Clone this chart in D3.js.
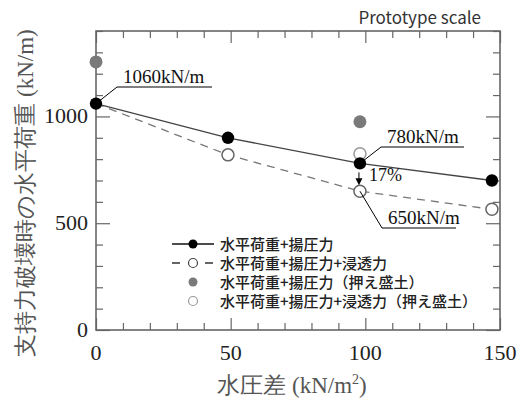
<!DOCTYPE html>
<html>
<head>
<meta charset="utf-8">
<script src="https://cdn.jsdelivr.net/npm/d3@7"></script>
<style>
  body { margin: 0; background: #fff; }
  svg { display: block; }
</style>
</head>
<body>
<svg id="chart" width="528" height="405"></svg>
<script>
// water pressure difference (kN/m2) and bearing capacity (kN/m)
var pressure = [0, 49, 98, 147];
var loadUplift = [1060, 900, 780, 700];
var loadUpliftSeepage = [1060, 820, 650, 565];
var bermPressure = [0, 98];
var bermUplift = [1255, 975];
var bermSeepPressure = [98];
var bermSeepage = [825];

var xTicks = [0, 50, 100, 150];
var yTicks = [0, 500, 1000];
var legendLabels = ["水平荷重+揚圧力", "水平荷重+揚圧力+浸透力", "水平荷重+揚圧力（押え盛土）", "水平荷重+揚圧力+浸透力（押え盛土）"];

var svg = d3.select("#chart"),
    margin = { top: 31, right: 28, bottom: 75, left: 96 },
    width = +svg.attr("width") - margin.left - margin.right,
    height = +svg.attr("height") - margin.top - margin.bottom,
    g = svg.append("g").attr("transform", "translate(" + margin.left + "," + margin.top + ")");

var x = d3.scaleLinear().domain([0, 150]).range([0, width]);
var y = d3.scaleLinear().domain([0, 1400]).range([height, 0]);

var serif = "'Liberation Serif', 'Times New Roman', serif";
var sans = "'Noto Sans CJK JP', 'Noto Sans', sans-serif";
var axisCol = "#666";

// inward ticks, all four sides
function ticks(axis, vals, len, tx) {
  g.append("g").attr("transform", tx)
    .call(axis.tickValues(vals).tickSize(len).tickFormat(""))
    .call(function (a) {
      a.select(".domain").remove();
      a.selectAll("line").attr("stroke", axisCol).attr("stroke-width", 1.2);
    });
}
var xMinor = d3.range(0, 151, 10).filter(function (d) { return d % 50; });
var yMinor = d3.range(0, 1401, 100).filter(function (d) { return d % 500; });
ticks(d3.axisTop(x), xMinor, 7, "translate(0," + height + ")");
ticks(d3.axisTop(x), xTicks, 12, "translate(0," + height + ")");
ticks(d3.axisBottom(x), xMinor, 7, "translate(0,0)");
ticks(d3.axisBottom(x), xTicks, 12, "translate(0,0)");
ticks(d3.axisRight(y), yMinor, 7, "translate(0,0)");
ticks(d3.axisRight(y), yTicks, 14, "translate(0,0)");
ticks(d3.axisLeft(y), yMinor, 7, "translate(" + width + ",0)");
ticks(d3.axisLeft(y), yTicks, 14, "translate(" + width + ",0)");

g.append("rect").attr("width", width).attr("height", height)
  .attr("fill", "none").attr("stroke", axisCol).attr("stroke-width", 1.6);

// tick labels
g.selectAll(".xl").data(xTicks).enter().append("text")
  .attr("x", function (d) { return x(d); }).attr("y", height + 30)
  .attr("text-anchor", "middle").attr("font-family", serif).attr("font-size", 22).attr("fill", "#222")
  .text(function (d) { return d; });
g.selectAll(".yl").data(yTicks).enter().append("text")
  .attr("x", -8).attr("y", function (d) { return y(d) + 7; })
  .attr("text-anchor", "end").attr("font-family", serif).attr("font-size", 22).attr("fill", "#222")
  .text(function (d) { return d; });

// axis titles
var xt = svg.append("text").attr("x", 292).attr("y", 393).attr("text-anchor", "middle")
  .attr("font-family", serif).attr("font-size", 23).attr("fill", "#555");
xt.append("tspan").text("水圧差 (kN/m");
xt.append("tspan").attr("dy", -9).attr("font-size", 14).text("2");
xt.append("tspan").attr("dy", 9).text(")");

svg.append("text").attr("transform", "translate(33,193) rotate(-90)")
  .attr("text-anchor", "middle").attr("font-family", serif).attr("font-size", 23).attr("fill", "#555")
  .text("支持力破壊時の水平荷重 (kN/m)");

svg.append("text").attr("x", 481).attr("y", 24).attr("text-anchor", "end")
  .attr("font-family", sans).attr("font-size", 17).attr("fill", "#333").text("Prototype scale");

// lines
var line = d3.line().x(function (d) { return x(d[0]); }).y(function (d) { return y(d[1]); });
g.append("path").datum(d3.zip(pressure, loadUpliftSeepage)).attr("d", line)
  .attr("fill", "none").attr("stroke", "#777").attr("stroke-width", 1.3).attr("stroke-dasharray", "8,6");
g.append("path").datum(d3.zip(pressure, loadUplift)).attr("d", line)
  .attr("fill", "none").attr("stroke", "#444").attr("stroke-width", 1.3);

// points
function dots(xs, ys, r, fill, stroke) {
  g.append("g").selectAll("circle").data(d3.zip(xs, ys)).enter().append("circle")
    .attr("cx", function (d) { return x(d[0]); }).attr("cy", function (d) { return y(d[1]); })
    .attr("r", r).attr("fill", fill).attr("stroke", stroke).attr("stroke-width", 1.5);
}
dots(bermPressure, bermUplift, 6.5, "#7a7a7a", "none");
dots(bermSeepPressure, bermSeepage, 6, "#fff", "#999");
dots(pressure.slice(1), loadUpliftSeepage.slice(1), 6, "#fff", "#666");
dots(pressure, loadUplift, 6.2, "#000", "none");

// annotations
function callout(px, py, x1, y1, x2, label) {
  var p = [x(px), y(py)];
  g.append("path").attr("d", "M" + p[0] + "," + p[1] + "L" + x1 + "," + y1 + "H" + x2)
    .attr("fill", "none").attr("stroke", "#000").attr("stroke-width", 1);
  g.append("text").attr("x", x1 + 6).attr("y", y1 - 4)
    .attr("font-family", serif).attr("font-size", 19).attr("fill", "#111").text(label);
}
callout(pressure[0], loadUplift[0], 21, 56, 116, "1060kN/m");
callout(pressure[2], loadUplift[2], 285, 116, 368, "780kN/m");
callout(pressure[2], loadUpliftSeepage[2], 286, 197, 360, "650kN/m");
// arrow 17%
var ax = x(pressure[2]) - 1;
g.append("line").attr("x1", ax).attr("x2", ax).attr("y1", y(loadUplift[2]) + 9).attr("y2", y(loadUpliftSeepage[2]) - 12)
  .attr("stroke", "#000").attr("stroke-width", 1);
g.append("path").attr("d", "M" + (ax - 3.5) + "," + (y(loadUpliftSeepage[2]) - 13) + "l3.5,7l3.5,-7z").attr("fill", "#000");
g.append("text").attr("x", ax + 10).attr("y", y(loadUpliftSeepage[2]) - 10)
  .attr("font-family", serif).attr("font-size", 18).attr("fill", "#111").text("17%");

// legend
var lx = 97, ly = 213, ls = 19;
var leg = g.append("g").attr("transform", "translate(" + lx + "," + ly + ")");
legendLabels.forEach(function (t, i) {
  var row = leg.append("g").attr("transform", "translate(0," + (i * ls) + ")");
  if (i === 0) row.append("line").attr("x1", -21).attr("x2", 21).attr("stroke", "#111").attr("stroke-width", 1.5);
  if (i === 1) {
    row.append("line").attr("x1", -21).attr("x2", -13).attr("stroke", "#333").attr("stroke-width", 1.5);
    row.append("line").attr("x1", 12).attr("x2", 20).attr("stroke", "#333").attr("stroke-width", 1.5);
  }
  var fills = ["#000", "#fff", "#7a7a7a", "#fff"], strokes = ["none", "#444", "none", "#999"];
  row.append("circle").attr("r", 4.5).attr("fill", fills[i]).attr("stroke", strokes[i]).attr("stroke-width", 1.2);
  row.append("text").attr("x", 27).attr("y", 5.5).attr("font-family", sans).attr("font-size", 15)
    .attr("font-weight", 500).attr("fill", "#222").text(t);
});
</script>
</body>
</html>
